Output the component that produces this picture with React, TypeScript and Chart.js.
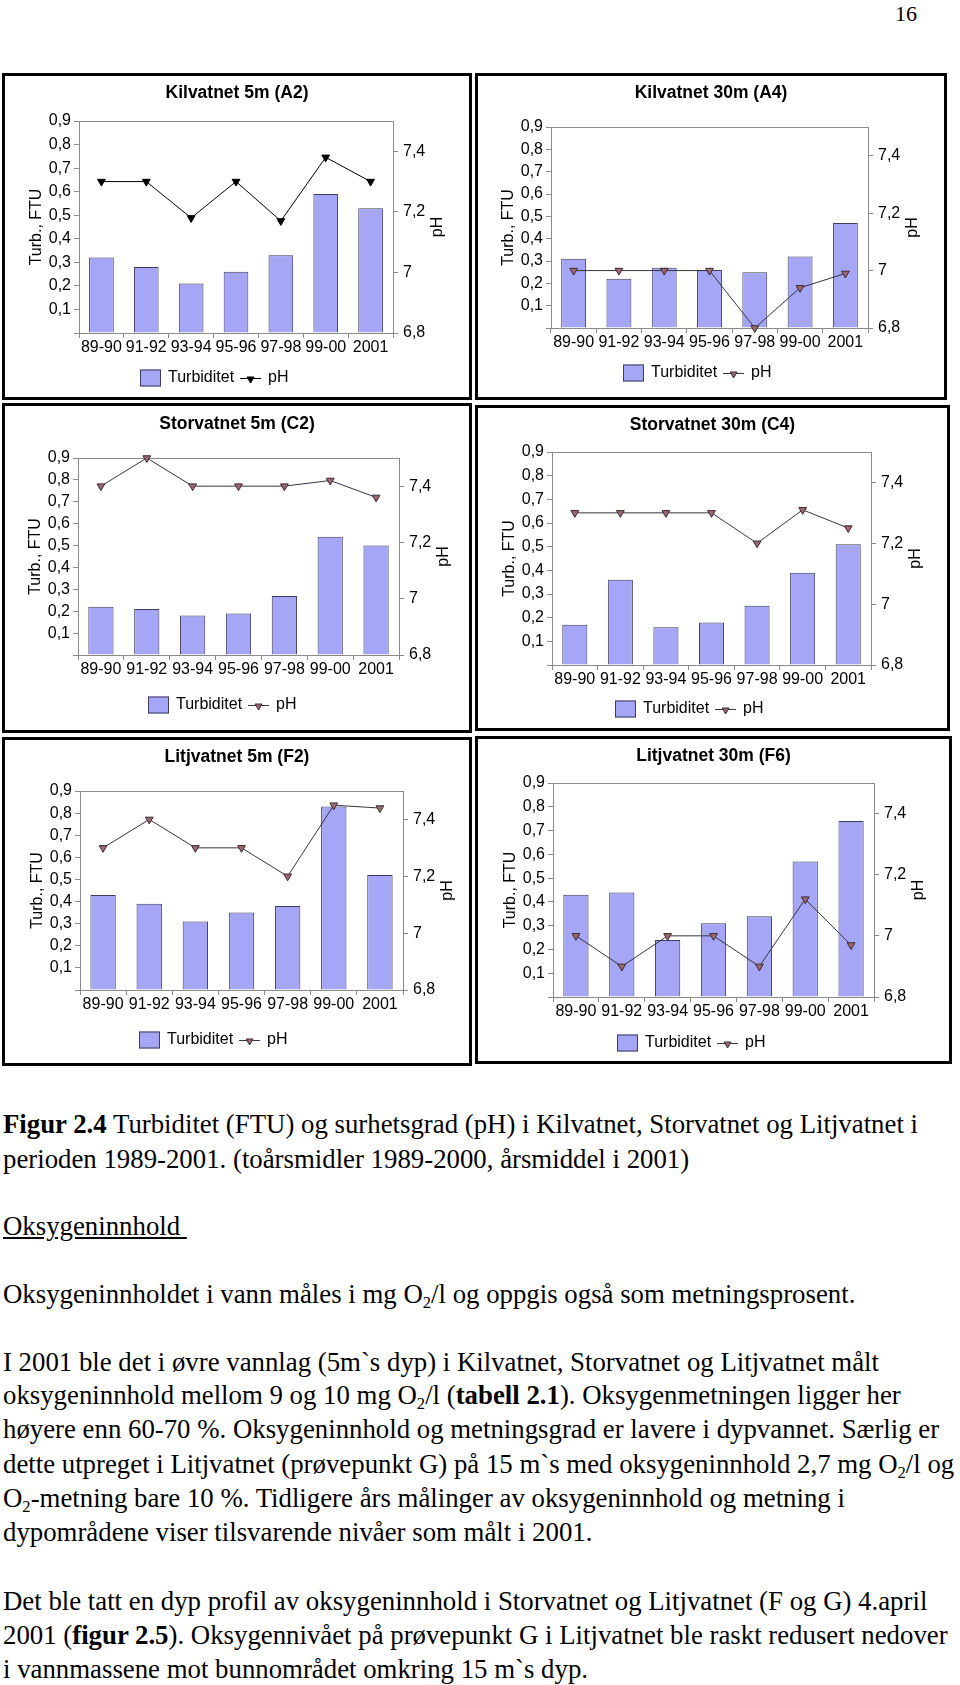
import React, { useEffect, useRef } from 'react';
import { Chart, registerables } from 'chart.js';

Chart.register(...registerables);

const SANS = '"Liberation Sans", Arial, sans-serif';
const SERIF = '"Liberation Serif", "Times New Roman", serif';

// ---------- data ----------
const CATEGORIES = ['89-90', '91-92', '93-94', '95-96', '97-98', '99-00', '2001'];
const TURB_TICKS = [0, 0.1, 0.2, 0.3, 0.4, 0.5, 0.6, 0.7, 0.8, 0.9];
const PH_TICKS = [6.8, 7, 7.2, 7.4];

const A2_TURB = [0.32, 0.28, 0.21, 0.26, 0.33, 0.59, 0.53];
const A2_PH = [7.3, 7.3, 7.18, 7.3, 7.17, 7.38, 7.3];
const A4_TURB = [0.31, 0.22, 0.27, 0.26, 0.25, 0.32, 0.47];
const A4_PH = [7.0, 7.0, 7.0, 7.0, 6.8, 6.94, 6.99];
const C2_TURB = [0.22, 0.21, 0.18, 0.19, 0.27, 0.54, 0.5];
const C2_PH = [7.4, 7.5, 7.4, 7.4, 7.4, 7.42, 7.36];
const C4_TURB = [0.17, 0.36, 0.16, 0.18, 0.25, 0.39, 0.51];
const C4_PH = [7.3, 7.3, 7.3, 7.3, 7.2, 7.31, 7.25];
const F2_TURB = [0.43, 0.39, 0.31, 0.35, 0.38, 0.83, 0.52];
const F2_PH = [7.3, 7.4, 7.3, 7.3, 7.2, 7.45, 7.44];
const F6_TURB = [0.43, 0.44, 0.24, 0.31, 0.34, 0.57, 0.74];
const F6_PH = [7.0, 6.9, 7.0, 7.0, 6.9, 7.12, 6.97];

const TITLES = [
  'Kilvatnet 5m (A2)',
  'Kilvatnet 30m (A4)',
  'Storvatnet 5m (C2)',
  'Storvatnet 30m (C4)',
  'Litjvatnet 5m (F2)',
  'Litjvatnet 30m (F6)',
];
const SERIES_NAMES = ['Turbiditet', 'pH'];
const Y_TITLE = 'Turb., FTU';
const Y1_TITLE = 'pH';

// ---------- styles ----------
const BAR_FILL = '#a6a6f6';
const BAR_EDGE = '#3c3c5c';
const GRID = '#8a8a8a';
const LINE_DARK = '#000000';
const LINE_OTHER = '#343444';
const MARK_FILL = '#9a6870';
const MARK_EDGE = '#3e2a30';
const FONT_SIZE = 16;

type PanelCfg = {
  title: string;
  turb: number[];
  ph: number[];
  box: [number, number, number, number]; // left, top, width, height (outer)
  plot: [number, number, number, number]; // left, top, right, bottom (inside border)
  titleY: number;
  legend: [number, number];
  dark: boolean;
};

const PANELS: PanelCfg[] = [
  { title: TITLES[0], turb: A2_TURB, ph: A2_PH, box: [2, 73, 470, 327], plot: [74, 45, 388, 257], titleY: 17, legend: [135, 302], dark: true },
  { title: TITLES[1], turb: A4_TURB, ph: A4_PH, box: [475, 73, 472, 327], plot: [73, 51, 390, 252], titleY: 17, legend: [145, 297], dark: false },
  { title: TITLES[2], turb: C2_TURB, ph: C2_PH, box: [2, 403, 470, 330], plot: [73, 52, 394, 249], titleY: 18, legend: [143, 299], dark: false },
  { title: TITLES[3], turb: C4_TURB, ph: C4_PH, box: [475, 405, 475, 326], plot: [74, 44, 393, 257], titleY: 17, legend: [137, 301], dark: false },
  { title: TITLES[4], turb: F2_TURB, ph: F2_PH, box: [2, 737, 470, 329], plot: [75, 51, 398, 250], titleY: 17, legend: [134, 300], dark: false },
  { title: TITLES[5], turb: F6_TURB, ph: F6_PH, box: [475, 736, 477, 328], plot: [75, 44, 396, 258], titleY: 17, legend: [139, 304], dark: false },
];

const fmt = (v: number) => (Math.round(v * 10) / 10).toString().replace('.', ',');

function drawDownTriangle(ctx: CanvasRenderingContext2D, x: number, y: number, r: number, fill: string, edge: string) {
  ctx.beginPath();
  ctx.moveTo(x, y + r);
  ctx.lineTo(x - r * 0.866, y - r / 2);
  ctx.lineTo(x + r * 0.866, y - r / 2);
  ctx.closePath();
  ctx.fillStyle = fill;
  ctx.fill();
  ctx.strokeStyle = edge;
  ctx.lineWidth = 1;
  ctx.stroke();
}

function Panel({ cfg }: { cfg: PanelCfg }) {
  const ref = useRef<HTMLCanvasElement>(null);
  const W = cfg.box[2] - 6;
  const H = cfg.box[3] - 6;

  useEffect(() => {
    const canvas = ref.current;
    if (!canvas) return;
    const [pl, pt, pr, pb] = cfg.plot;
    const X_H = 30;
    const lineColor = cfg.dark ? LINE_DARK : LINE_OTHER;
    const markFill = cfg.dark ? '#000000' : MARK_FILL;
    const markEdge = cfg.dark ? '#000000' : MARK_EDGE;

    const decor = {
      id: 'decor',
      beforeDatasetsDraw(chart: any) {
        const { ctx, chartArea: a } = chart;
        ctx.save();
        ctx.strokeStyle = GRID;
        ctx.lineWidth = 1;
        ctx.strokeRect(Math.round(a.left) + 0.5, Math.round(a.top) + 0.5, Math.round(a.right - a.left), Math.round(a.bottom - a.top));
        ctx.restore();
      },
      afterDraw(chart: any) {
        const { ctx, chartArea: a } = chart;
        ctx.save();
        ctx.fillStyle = '#000';
        // title
        ctx.font = `bold 17.5px ${SANS}`;
        ctx.textAlign = 'center';
        ctx.textBaseline = 'middle';
        ctx.fillText(cfg.title, W / 2, cfg.titleY);
        // axis titles
        ctx.font = `${FONT_SIZE}px ${SANS}`;
        const cy = (a.top + a.bottom) / 2;
        ctx.save();
        ctx.translate(a.left - 42, cy);
        ctx.rotate(-Math.PI / 2);
        ctx.fillText(Y_TITLE, 0, 0);
        ctx.restore();
        ctx.save();
        ctx.translate(a.right + 45, cy);
        ctx.rotate(-Math.PI / 2);
        ctx.fillText(Y1_TITLE, 0, 0);
        ctx.restore();
        // legend
        const [lx, ly] = cfg.legend;
        ctx.fillStyle = BAR_FILL;
        ctx.fillRect(lx, ly - 8.5, 21, 17);
        ctx.strokeStyle = BAR_EDGE;
        ctx.lineWidth = 1;
        ctx.strokeRect(lx + 0.5, ly - 8, 20, 16);
        ctx.fillStyle = '#000';
        ctx.textAlign = 'left';
        const t1x = lx + 28;
        ctx.fillText(SERIES_NAMES[0], t1x, ly);
        const t1w = ctx.measureText(SERIES_NAMES[0]).width;
        const ls = t1x + t1w + 6;
        ctx.strokeStyle = lineColor;
        ctx.beginPath();
        ctx.moveTo(ls, Math.round(ly) + 0.5);
        ctx.lineTo(ls + 21, Math.round(ly) + 0.5);
        ctx.stroke();
        drawDownTriangle(ctx, ls + 10.5, ly + 1, 4, markFill, markEdge);
        ctx.fillStyle = '#000';
        ctx.fillText(SERIES_NAMES[1], ls + 28, ly);
        ctx.restore();
      },
    };

    const tickFont = { family: SANS, size: FONT_SIZE };

    const chart = new Chart(canvas, {
      type: 'bar',
      data: {
        labels: CATEGORIES,
        datasets: [
          {
            type: 'bar',
            label: SERIES_NAMES[0],
            data: cfg.turb,
            yAxisID: 'y',
            backgroundColor: BAR_FILL,
            borderColor: BAR_EDGE,
            borderWidth: 1,
            categoryPercentage: 1,
            barPercentage: 0.55,
            order: 1,
          } as any,
          {
            type: 'line',
            label: SERIES_NAMES[1],
            data: cfg.ph,
            yAxisID: 'y1',
            borderColor: lineColor,
            borderWidth: 1,
            pointStyle: 'triangle',
            rotation: 180,
            pointRadius: 4.5,
            pointBackgroundColor: markFill,
            pointBorderColor: markEdge,
            pointBorderWidth: 1,
            tension: 0,
            clip: false,
            order: 0,
          } as any,
        ],
      },
      options: {
        responsive: false,
        animation: false,
        devicePixelRatio: 1,
        layout: { padding: { top: pt, bottom: H - pb - X_H, left: 0, right: 0 } },
        plugins: {
          legend: { display: false },
          title: { display: false },
          tooltip: { enabled: false },
        },
        scales: {
          x: {
            type: 'category',
            offset: true,
            grid: { offset: true, drawOnChartArea: false, drawTicks: true, tickLength: 5, color: GRID },
            border: { display: false },
            ticks: { color: '#000', font: tickFont, padding: 0, maxRotation: 0, minRotation: 0, autoSkip: false },
            afterFit: (s: any) => { s.height = X_H; },
          },
          y: {
            type: 'linear',
            position: 'left',
            min: 0,
            max: 0.9,
            afterBuildTicks: (s: any) => { s.ticks = TURB_TICKS.map((v) => ({ value: v })); },
            ticks: { color: '#000', font: tickFont, padding: 3, autoSkip: false, callback: (v: any) => (Number(v) === 0 ? '' : fmt(Number(v))) },
            grid: { drawOnChartArea: false, drawTicks: true, tickLength: 5, color: GRID },
            border: { display: false },
            afterFit: (s: any) => { s.width = pl; },
          },
          y1: {
            type: 'linear',
            position: 'right',
            min: 6.8,
            max: 7.5,
            afterBuildTicks: (s: any) => { s.ticks = PH_TICKS.map((v) => ({ value: v })); },
            ticks: { color: '#000', font: tickFont, padding: 5, autoSkip: false, callback: (v: any) => fmt(Number(v)) },
            grid: { drawOnChartArea: false, drawTicks: true, tickLength: 5, color: GRID },
            border: { display: false },
            afterFit: (s: any) => { s.width = W - pr; },
          },
        },
      } as any,
      plugins: [decor as any],
    });
    return () => chart.destroy();
  }, [cfg, W, H]);

  return (
    <div
      style={{
        position: 'absolute',
        left: cfg.box[0],
        top: cfg.box[1],
        width: cfg.box[2],
        height: cfg.box[3],
        border: '3px solid #000',
        boxSizing: 'border-box',
        background: '#fff',
      }}
    >
      <canvas ref={ref} width={W} height={H} style={{ display: 'block', width: W, height: H }} />
    </div>
  );
}

const sub = (t: string) => (
  <sub style={{ fontSize: '0.62em', verticalAlign: '-0.28em', lineHeight: 0 }}>{t}</sub>
);

const TEXT_LINES: { top: number; content: React.ReactNode }[] = [
  { top: 1107, content: (<><b>Figur 2.4</b> Turbiditet (FTU) og surhetsgrad (pH) i Kilvatnet, Storvatnet og Litjvatnet i</>) },
  { top: 1142, content: 'perioden 1989-2001. (toårsmidler 1989-2000, årsmiddel i 2001)' },
  { top: 1209, content: (<span style={{ textDecoration: 'underline' }}>Oksygeninnhold&nbsp;</span>) },
  { top: 1277, content: (<>Oksygeninnholdet i vann måles i mg O{sub('2')}/l og oppgis også som metningsprosent.</>) },
  { top: 1345, content: 'I 2001 ble det i øvre vannlag (5m`s dyp) i Kilvatnet, Storvatnet og Litjvatnet målt' },
  { top: 1378, content: (<>oksygeninnhold mellom 9 og 10 mg O{sub('2')}/l (<b>tabell 2.1</b>). Oksygenmetningen ligger her</>) },
  { top: 1412, content: 'høyere enn 60-70 %. Oksygeninnhold og metningsgrad er lavere i dypvannet. Særlig er' },
  { top: 1447, content: (<>dette utpreget i Litjvatnet (prøvepunkt G) på 15 m`s med oksygeninnhold 2,7 mg O{sub('2')}/l og</>) },
  { top: 1481, content: (<>O{sub('2')}-metning bare 10 %. Tidligere års målinger av oksygeninnhold og metning i</>) },
  { top: 1515, content: 'dypområdene viser tilsvarende nivåer som målt i 2001.' },
  { top: 1584, content: 'Det ble tatt en dyp profil av oksygeninnhold i Storvatnet og Litjvatnet (F og G) 4.april' },
  { top: 1618, content: (<>2001 (<b>figur 2.5</b>). Oksygennivået på prøvepunkt G i Litjvatnet ble raskt redusert nedover</>) },
  { top: 1652, content: 'i vannmassene mot bunnområdet omkring 15 m`s dyp.' },
];

export default function App() {
  useEffect(() => {
    document.body.style.margin = '0';
  }, []);
  return (
    <div style={{ position: 'absolute', left: 0, top: 0, width: 960, height: 1685, background: '#fff', overflow: 'hidden' }}>
      <div style={{ position: 'absolute', left: 860, top: 2, width: 57, textAlign: 'right', fontFamily: SERIF, fontSize: 22, lineHeight: '24px' }}>16</div>
      {PANELS.map((p, i) => (
        <Panel key={i} cfg={p} />
      ))}
      {TEXT_LINES.map((l, i) => (
        <div
          key={i}
          style={{ position: 'absolute', left: 3, top: l.top, whiteSpace: 'nowrap', fontFamily: SERIF, fontSize: 26.8, lineHeight: '34px', color: '#000' }}
        >
          {l.content}
        </div>
      ))}
    </div>
  );
}
